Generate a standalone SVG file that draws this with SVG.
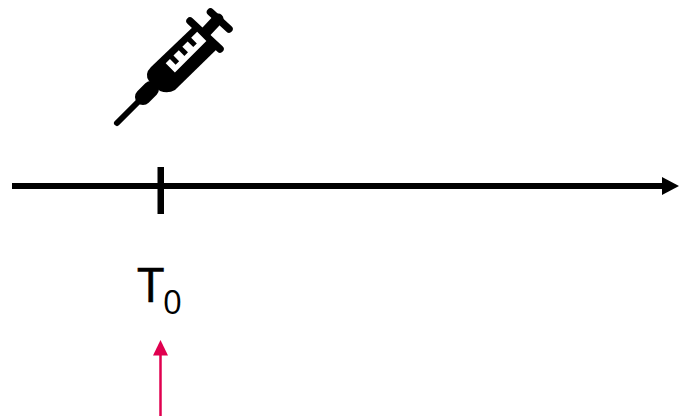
<svg xmlns="http://www.w3.org/2000/svg" width="679" height="417" viewBox="0 0 679 417">
<style>
.k{fill:none;stroke:#000;stroke-linecap:round}
.t{font-family:"Open Sans","Liberation Sans",sans-serif;fill:#000}
</style>
<rect width="679" height="417" fill="#fff"/>
<g id="connectors">
<path d="M12 186H664" stroke="#000" stroke-width="6" fill="none"/>
<polygon points="662,177 679,186 662,195" fill="#000"/>
<path d="M160.500 416V353" stroke="#E0004F" stroke-width="2.500" fill="none"/>
<polygon points="160.500,340 168,355.500 153,355.500" fill="#E0004F"/>
</g>
<g id="tick"><rect x="157.500" y="167" width="6.500" height="47" fill="#000"/></g>
<g id="label-t0">
<text class="t" x="137.500" y="302" font-size="48" stroke="#000" stroke-width="0.600">T</text>
<text class="t" x="163" y="314" font-size="33">0</text>
</g>
<g id="syringe">
<path class="k" d="M117 123L142 98" stroke-width="6"/>
<path class="k" d="M143 97L151 89" stroke-width="16"/>
<path d="M151 67L196 24L219 47L175 90Q168 94 160 91L149 81Q144 74 151 67Z" fill="#000"/>
<path class="k" d="M190 21L220 49" stroke-width="7.500"/>
<path class="k" d="M203 35L218 19" stroke-width="11"/>
<path class="k" d="M210.500 12L229 29" stroke-width="7.500"/>
<path transform="translate(165.700 63.300) rotate(-45)" d="M0 0H6V8H11V0H18.500V8H23.500V0H31V8H36V0H44.500V13H0Z" fill="#fff"/>
</g>
</svg>
